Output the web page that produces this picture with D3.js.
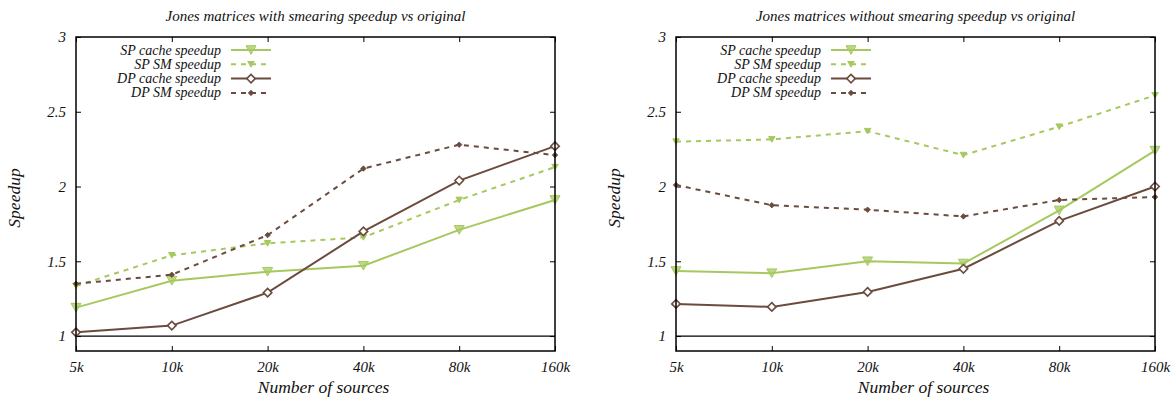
<!DOCTYPE html>
<html>
<head>
<meta charset="utf-8">
<script src="https://cdn.jsdelivr.net/npm/d3@7"></script>
<style>
  html, body { margin: 0; padding: 0; background: #fff; }
  svg { display: block; }
</style>
</head>
<body>
<svg id="chart" width="1176" height="399"></svg>
<script>
// Problem sizes (number of sources) and y-axis ticks
const sources = ["5k", "10k", "20k", "40k", "80k", "160k"];
const yTicks = [1, 1.5, 2, 2.5, 3];
const seriesNames = ["SP cache speedup", "SP SM speedup", "DP cache speedup", "DP SM speedup"];
const panelTitles = [
  "Jones matrices with smearing speedup vs original",
  "Jones matrices without smearing speedup vs original"
];

// Speedups, Jones matrices with smearing
const withSpCache = [1.19, 1.37, 1.43, 1.47, 1.71, 1.91];
const withSpSM    = [1.335, 1.54, 1.62, 1.66, 1.91, 2.13];
const withDpCache = [1.025, 1.07, 1.29, 1.70, 2.04, 2.27];
const withDpSM    = [1.35, 1.41, 1.675, 2.12, 2.28, 2.21];

// Speedups, Jones matrices without smearing
const noSpCache = [1.435, 1.42, 1.50, 1.485, 1.84, 2.24];
const noSpSM    = [2.30, 2.315, 2.37, 2.21, 2.40, 2.61];
const noDpCache = [1.215, 1.195, 1.295, 1.45, 1.77, 2.00];
const noDpSM    = [2.01, 1.875, 1.845, 1.80, 1.91, 1.93];

const GREEN = "#a6c95f";
const BROWN = "#6c4b3f";
const SERIF = "'Liberation Serif', 'Times New Roman', Times, serif";

// Visual style of each series, in legend order
const styles = [
  { color: GREEN, dash: null,  marker: "triDown",  size: 10,  width: 2 },
  { color: GREEN, dash: "5,5", marker: "triSmall", size: 6.5, width: 2 },
  { color: BROWN, dash: null,  marker: "diamond",  size: 8.5, width: 2 },
  { color: BROWN, dash: "5,5", marker: "dot",      size: 5.5, width: 2 }
];

const svg = d3.select("#chart");

const panels = [
  { left: 76,  right: 555, title: panelTitles[0], data: [withSpCache, withSpSM, withDpCache, withDpSM] },
  { left: 676, right: 1155, title: panelTitles[1], data: [noSpCache, noSpSM, noDpCache, noDpSM] }
];
const plotTop = 37, plotBottom = 351;

function serifText(sel, size) {
  return sel.style("font-family", SERIF).style("font-style", "italic")
    .style("font-size", size + "px").attr("fill", "#111");
}

function drawMarker(g, kind, cx, cy, size, color) {
  if (kind === "triDown" || kind === "triSmall") {
    const h = size * 0.866, w = size / 2;
    g.append("path")
      .attr("d", `M${cx - w},${cy - h / 2}L${cx + w},${cy - h / 2}L${cx},${cy + h / 2}Z`)
      .attr("fill", color).attr("fill-opacity", kind === "triDown" ? 0.75 : 1)
      .attr("stroke", color).attr("stroke-width", 1);
  } else if (kind === "diamond") {
    const r = size / 2;
    g.append("path")
      .attr("d", `M${cx},${cy - r}L${cx + r},${cy}L${cx},${cy + r}L${cx - r},${cy}Z`)
      .attr("fill", "#fff").attr("stroke", color).attr("stroke-width", 1.6);
  } else {
    const r = size / 2;
    g.append("path")
      .attr("d", `M${cx},${cy - r}L${cx + r},${cy}L${cx},${cy + r}L${cx - r},${cy}Z`)
      .attr("fill", color).attr("stroke", color).attr("stroke-width", 0.8);
  }
}

panels.forEach(p => {
  const g = svg.append("g");
  const x = d3.scalePoint().domain(sources).range([p.left, p.right]);
  const y = d3.scaleLinear().domain([0.9, 3]).range([plotBottom, plotTop]);

  // Title
  serifText(g.append("text").attr("x", (p.left + p.right) / 2).attr("y", 21)
    .attr("text-anchor", "middle").text(p.title), 15);

  // Inward ticks on all four sides
  const tickLen = 5;
  const axB = d3.axisBottom(x).tickSizeInner(-tickLen).tickSizeOuter(0).tickPadding(10);
  const axT = d3.axisTop(x).tickSizeInner(-tickLen).tickSizeOuter(0).tickFormat("");
  const axL = d3.axisLeft(y).tickValues(yTicks).tickSizeInner(-tickLen).tickSizeOuter(0)
    .tickPadding(10).tickFormat(d3.format(""));
  const axR = d3.axisRight(y).tickValues(yTicks).tickSizeInner(-tickLen).tickSizeOuter(0).tickFormat("");

  [[axB, `translate(0,${plotBottom})`], [axT, `translate(0,${plotTop})`],
   [axL, `translate(${p.left},0)`], [axR, `translate(${p.right},0)`]].forEach(([ax, tr]) => {
    const a = g.append("g").attr("transform", tr).call(ax);
    a.select(".domain").remove();
    a.selectAll(".tick line").attr("stroke", "#000").attr("stroke-width", 1);
    serifText(a.selectAll(".tick text"), 15);
  });

  // Reference line at speedup 1
  g.append("line").attr("x1", p.left).attr("x2", p.right)
    .attr("y1", y(1)).attr("y2", y(1)).attr("stroke", "#000").attr("stroke-width", 1.2);

  // Series lines and markers
  const line = d3.line().x((d, i) => x(sources[i])).y(d => y(d));
  p.data.forEach((vals, si) => {
    const st = styles[si];
    g.append("path").datum(vals).attr("d", line).attr("fill", "none")
      .attr("stroke", st.color).attr("stroke-width", st.width)
      .attr("stroke-dasharray", st.dash);
    vals.forEach((v, i) => drawMarker(g, st.marker, x(sources[i]), y(v), st.size, st.color));
  });

  // Plot frame
  g.append("rect").attr("x", p.left).attr("y", plotTop)
    .attr("width", p.right - p.left).attr("height", plotBottom - plotTop)
    .attr("fill", "none").attr("stroke", "#000").attr("stroke-width", 1.5);

  // Legend
  const lgTextRight = p.left + 145;
  const lgX1 = p.left + 155, lgX2 = p.left + 195;
  seriesNames.forEach((name, si) => {
    const st = styles[si];
    const ly = 50 + si * 14.3;
    serifText(g.append("text").attr("x", lgTextRight).attr("y", ly + 4.5)
      .attr("text-anchor", "end").text(name), 14);
    g.append("line").attr("x1", lgX1).attr("x2", lgX2).attr("y1", ly).attr("y2", ly)
      .attr("stroke", st.color).attr("stroke-width", st.width).attr("stroke-dasharray", st.dash);
    drawMarker(g, st.marker, (lgX1 + lgX2) / 2, ly, st.size, st.color);
  });

  // Axis titles
  serifText(g.append("text").attr("x", (p.left + p.right) / 2 + 8).attr("y", 393)
    .attr("text-anchor", "middle").text("Number of sources"), 17.5);
  serifText(g.append("text")
    .attr("transform", `translate(${p.left - 56},198) rotate(-90)`)
    .attr("text-anchor", "middle").text("Speedup"), 17.5);
});
</script>
</body>
</html>
